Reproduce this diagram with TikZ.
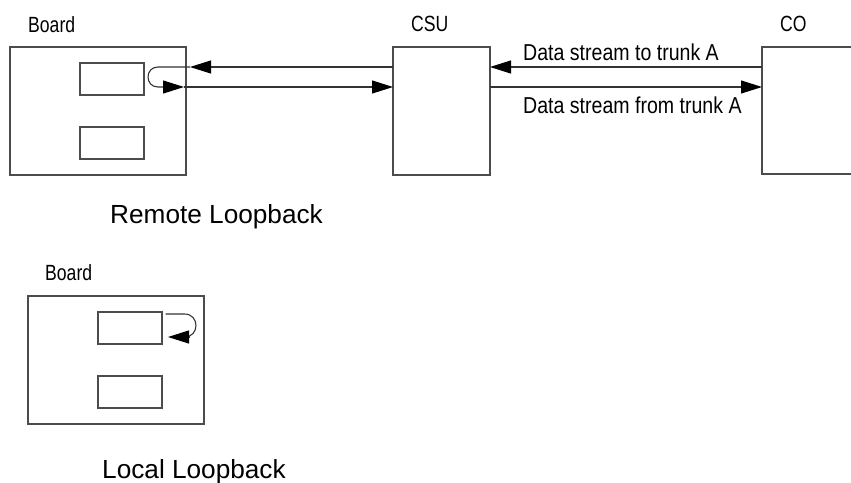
\documentclass[tikz,border=0pt]{standalone}
\usepackage{fontspec}
\setmainfont{Liberation Sans}
\newfontfamily\narrowfont[FakeStretch=0.8]{Liberation Sans}
\newfontfamily\streamfont[FakeStretch=0.85]{Liberation Sans}
\usetikzlibrary{arrows.meta}
\begin{document}
\begin{tikzpicture}[x=1pt,y=-1pt,
  box/.style={draw=black!70, line width=1.1pt, inner sep=0pt, outer sep=0pt, anchor=north west},
  wire/.style={draw=black!80, line width=1.1pt},
  tip/.style={-{Triangle[length=21pt,width=13pt,color=black]}},
  lbl/.style={inner sep=0pt, anchor=base west, font=\narrowfont\fontsize{22}{26}\selectfont},
  streamlbl/.style={inner sep=0pt, anchor=base west, font=\streamfont\fontsize{23}{27}\selectfont},
  title/.style={inner sep=0pt, anchor=base west, font=\fontsize{26.2}{30}\selectfont}]
\useasboundingbox (0,0) rectangle (851,482);
\clip (0,0) rectangle (851,482);

% ---- remote loopback ----
\node[box, minimum width=176pt, minimum height=128pt] (board) at (10,47) {};
\node[box, minimum width=64pt, minimum height=32pt] (chipa) at (80,63) {};
\node[box, minimum width=64pt, minimum height=32pt] (chipb) at (80,127) {};
\node[box, minimum width=97pt, minimum height=128pt] (csu) at (393,47) {};
\node[box, minimum width=130pt, minimum height=127pt] (co) at (762,47) {};

\node[lbl] (lboard) at (28,32) {Board};
\node[lbl] (lcsu) at (411,31) {CSU};
\node[lbl] (lco) at (780,31) {CO};
\node[streamlbl] (lto) at (523,60) {Data stream to trunk A};
\node[streamlbl] (lfrom) at (523,113) {Data stream from trunk A};
\node[title] (lremote) at (110,223) {Remote Loopback};

% loop turning around just outside the first chip
\coordinate (upin) at (190,67);
\coordinate (lowmid) at (184,87);
\draw[wire, tip] (csu.west |- upin) -- (upin);
\draw[wire] (upin) -- (158,67) .. controls (144.7,67) and (144.7,87) .. (158,87) -- (164,87);
\draw[wire, tip] (164,87) -- (lowmid);
\draw[wire, tip] (lowmid) -- (csu.west |- lowmid);

% trunk A between CSU and CO
\draw[wire, tip] (co.west |- upin) -- (csu.east |- upin);
\draw[wire, tip] (csu.east |- lowmid) -- (co.west |- lowmid);

% ---- local loopback ----
\node[box, minimum width=176pt, minimum height=128pt] (board2) at (28,296) {};
\node[box, minimum width=64pt, minimum height=32pt] (chipc) at (98,312) {};
\node[box, minimum width=64pt, minimum height=32pt] (chipd) at (98,376) {};
\node[lbl] (lboard2) at (45,280) {Board};
\node[title] (llocal) at (102,478) {Local Loopback};

\coordinate (loopstart) at (165.5,314);
\coordinate (loopend) at (168,337);
\draw[wire] (loopstart) -- (184.5,314) .. controls (199.8,314) and (199.8,337) .. (184.5,337);
\draw[wire, tip] (189,337) -- (loopend);
\end{tikzpicture}
\end{document}
